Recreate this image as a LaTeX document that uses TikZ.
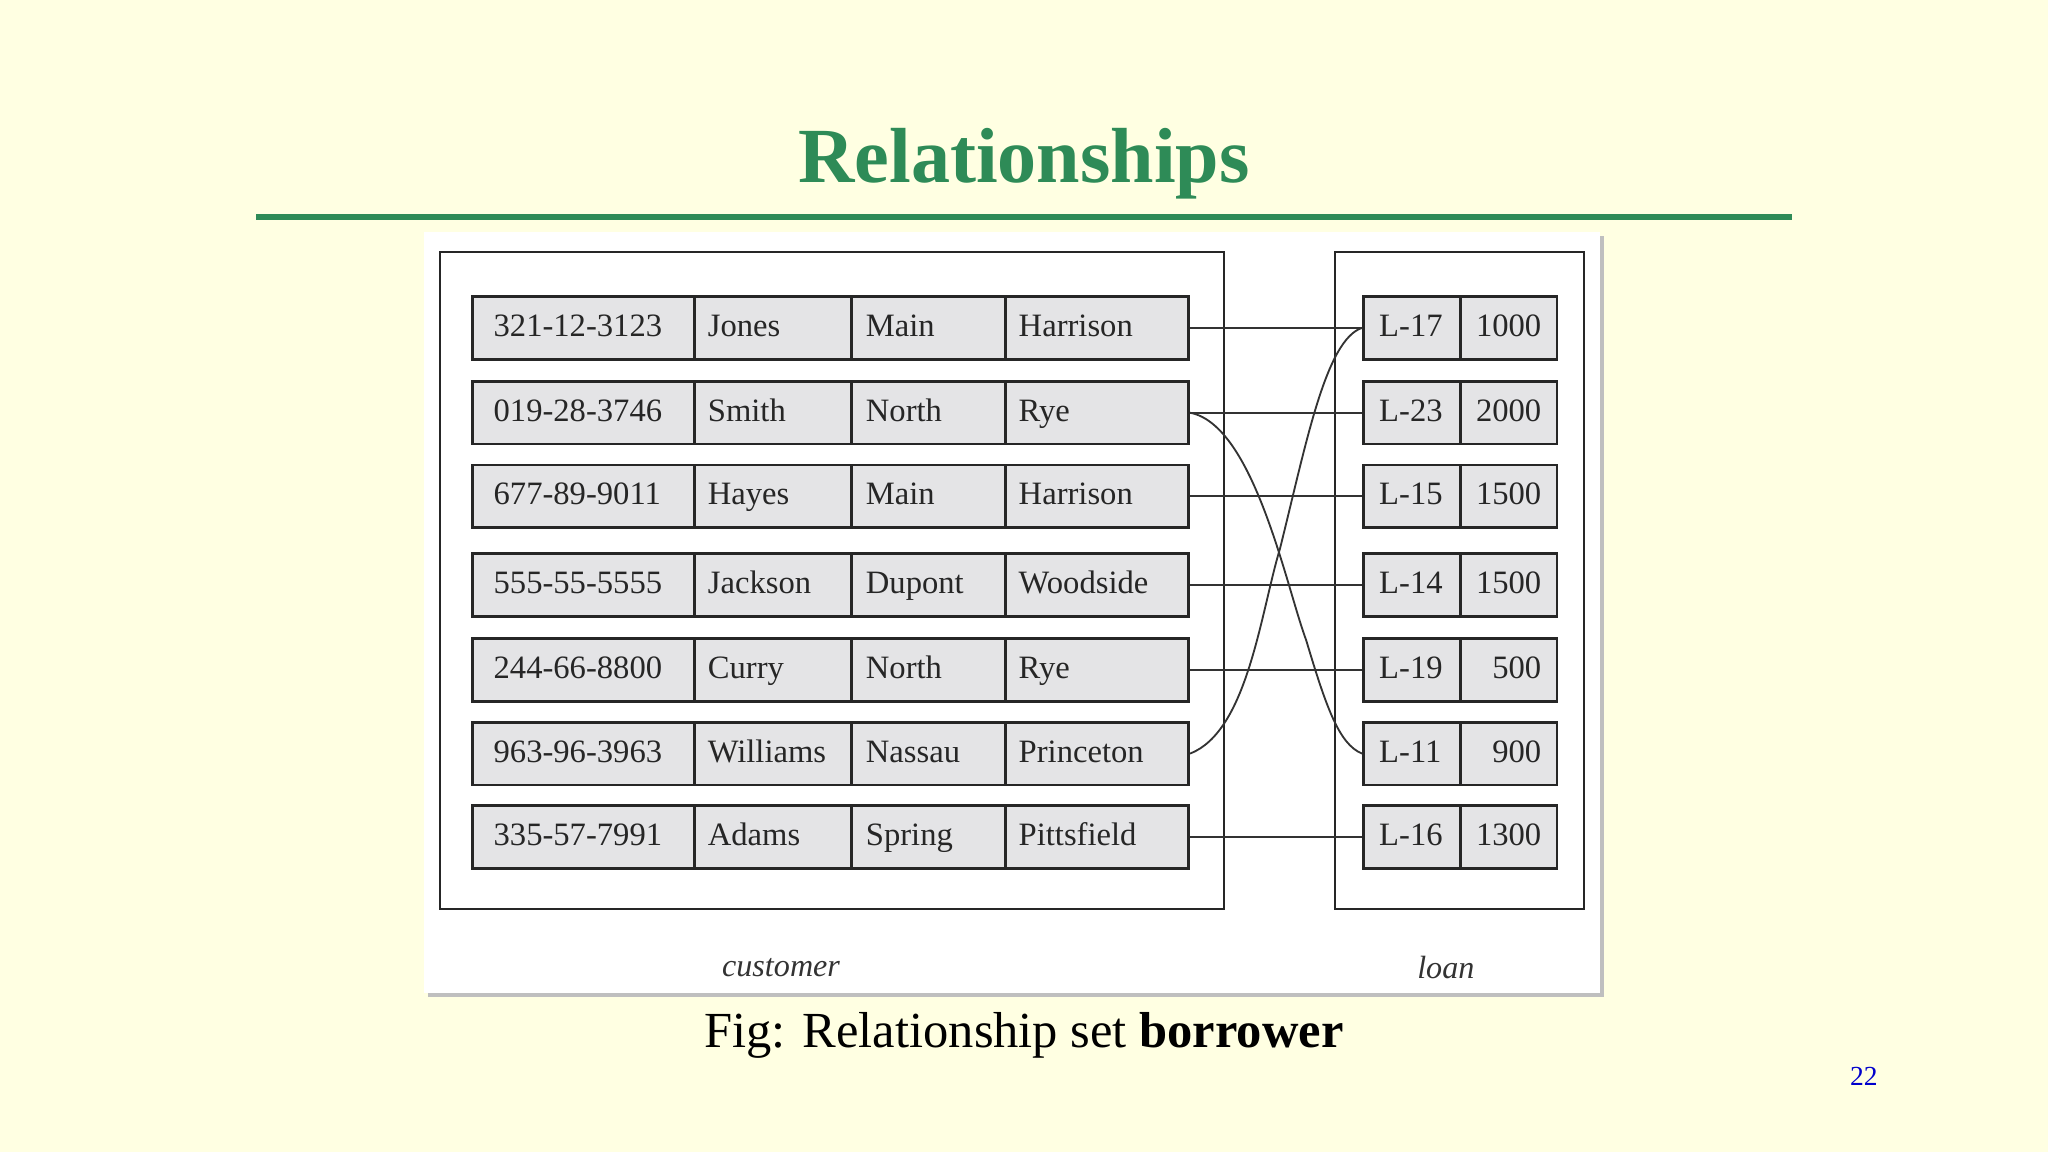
\documentclass[tikz,border=0pt]{standalone}
\usepackage{fontspec}
\setmainfont{Liberation Serif}
\definecolor{bg}{RGB}{255,255,226}
\definecolor{ttl}{RGB}{46,139,87}
\definecolor{cellg}{RGB}{228,228,230}
\begin{document}
\begin{tikzpicture}[x=0.01cm,y=-0.01cm,
  cell/.style={draw=black!85,line width=0.6pt,fill=cellg,minimum height=0.48cm,inner sep=0pt,text height=1.9mm,text depth=0.6mm,font=\fontsize{7.1}{8}\selectfont,text=black!85},
  conn/.style={draw=black!80,line width=0.4pt}]
\fill[bg] (0,0) rectangle (1568,882);
\useasboundingbox (0,0) rectangle (1568,882);
\node[text=ttl,font=\fontsize{17}{19}\selectfont\bfseries] (title) at (784,125) {Relationships};
\draw[ttl,line width=1.2pt] (196,166) -- (1372,166);
\fill[black!25] (328,181) rectangle (1228,763);
\fill[white] (325,178) rectangle (1225,760);
\draw[black!85,line width=0.5pt] (337,193) rectangle (937,696);
\draw[black!85,line width=0.5pt] (1022,193) rectangle (1213,696);
\node[font=\fontsize{7}{8}\selectfont\itshape,text=black!80] (cust) at (598,741) {customer};
\node[font=\fontsize{7}{8}\selectfont\itshape,text=black!80] (loanlbl) at (1107,741) {loan};
\foreach \i/\y/\a/\b/\c/\d in {1/251/321-12-3123/Jones/Main/Harrison,2/316/019-28-3746/Smith/North/Rye,3/380/677-89-9011/Hayes/Main/Harrison,4/448/555-55-5555/Jackson/Dupont/Woodside,5/513/244-66-8800/Curry/North/Rye,6/577/963-96-3963/Williams/Nassau/Princeton,7/641/335-57-7991/Adams/Spring/Pittsfield}{
  \node[cell,minimum width=1.70cm,text width=1.38cm,align=left] (a\i) at (447,\y) {\a};
  \node[cell,minimum width=1.20cm,text width=1.0cm,align=left] (b\i) at (592,\y) {\b};
  \node[cell,minimum width=1.18cm,text width=0.96cm,align=left] (c\i) at (711,\y) {\c};
  \node[cell,minimum width=1.40cm,text width=1.2cm,align=left] (d\i) at (840,\y) {\d};
}
\foreach \i/\y/\l/\v in {1/251/L-17/1000,2/316/L-23/2000,3/380/L-15/1500,4/448/L-14/1500,5/513/L-19/500,6/577/L-11/900,7/641/L-16/1300}{
  \node[cell,minimum width=0.74cm,text width=0.5cm,align=left] (l\i) at (1081,\y) {\l};
  \node[cell,minimum width=0.74cm,text width=0.5cm,align=right] (m\i) at (1155,\y) {\v};
}
\foreach \i in {1,2,3,4,5,7}{\draw[conn] (d\i.east) -- (l\i.west);}
\draw[conn] (d2.east) .. controls (960,325) and (985,450) .. (1000,490) .. controls (1015,540) and (1025,570) .. (l6.west);
\draw[conn] (d6.east) .. controls (955,560) and (965,470) .. (980,420) .. controls (1000,340) and (1015,260) .. (l1.west);
\node[font=\fontsize{11}{13}\selectfont] (cap) at (784,793) {Fig: Relationship set \textbf{borrower}};
\node[font=\fontsize{6}{7}\selectfont,text=blue!80!black] (pg) at (1427,824) {22};
\end{tikzpicture}
\end{document}
